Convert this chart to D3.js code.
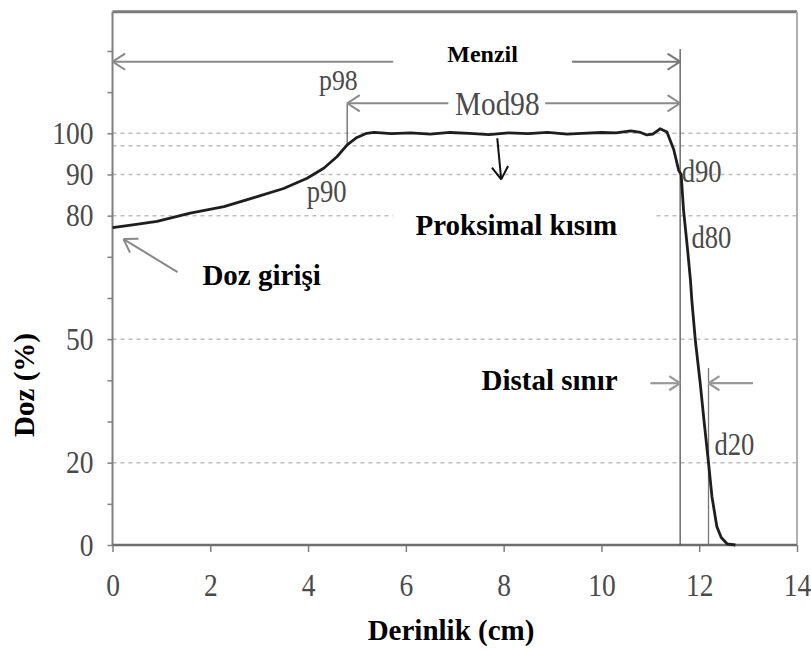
<!DOCTYPE html>
<html>
<head>
<meta charset="utf-8">
<script src="https://cdn.jsdelivr.net/npm/d3@7"></script>
<style>
  html, body { margin: 0; padding: 0; background: #fff; }
  svg { display: block; }
  text { font-family: "Liberation Serif", "Times New Roman", serif; }
</style>
</head>
<body>
<svg id="chart" width="811" height="651"></svg>
<script>
/*
 * Depth-dose curve (proton SOBP)
 * ========================================================================== */

// depth in cm, dose in %
const depth = [0, 0.45, 0.91, 1.59, 2.28, 2.96, 3.5, 3.98, 4.32, 4.59, 4.8, 5.0, 5.2, 5.35,
  5.7, 6.1, 6.5, 6.9, 7.3, 7.7, 8.1, 8.5, 8.9, 9.3, 9.6, 10.0, 10.3, 10.6, 10.8,
  10.93, 11.05, 11.2, 11.34, 11.48, 11.58, 11.63, 11.68, 11.76, 11.82, 11.85, 11.92,
  12.02, 12.1, 12.19, 12.26, 12.36, 12.45, 12.57, 12.74];
const dose = [77.1, 77.8, 78.6, 80.6, 82.2, 84.6, 86.6, 89.1, 91.5, 94.3, 97.2, 99.0, 100, 100.2,
  99.9, 100.1, 99.8, 100.2, 100, 99.7, 100.1, 99.9, 100.2, 99.8, 100, 100.2, 100.1, 100.6, 100.2,
  99.6, 99.8, 101.1, 100.3, 96, 91, 90, 81.3, 72, 64.4, 59.3, 49.8,
  39.3, 30, 20, 11.8, 4.5, 1.8, 0.3, 0];

const xTicks = [0, 2, 4, 6, 8, 10, 12, 14];
const yTicks = [0, 10, 20, 30, 40, 50, 60, 70, 80, 90, 100, 110, 120];
const yTickLabels = [0, 20, 50, 80, 90, 100];
const gridLevels = [100, 97, 90, 80, 50, 20];

// annotation anchors (depth, dose)
const rangeEnds = [0, 11.61];      // Menzil
const modEnds = [4.8, 11.61];      // Mod98
const distalEnds = [11.61, 12.19]; // Distal sınır

const svg = d3.select('#chart');
const x = d3.scaleLinear().domain([0, 14]).range([112.5, 797]);
const y = d3.scaleLinear().domain([0, 100]).range([545, 133.3]);
const yTop = 129.5;

const GRID = '#bdbdbd', AXIS = '#808080', ANNO = '#8a8a8a';
const SQUEEZE = 0.86; // tick labels are a narrow serif

/*
 * Grid
 */
svg.append('g').selectAll('line')
  .data(gridLevels)
  .enter().append('line')
    .attr('x1', x(0)).attr('x2', x(14))
    .attr('y1', d => y(d)).attr('y2', d => y(d))
    .attr('stroke', GRID)
    .attr('stroke-width', 1.5)
    .attr('stroke-dasharray', '4,4');

// white box behind "Proksimal kısım"
svg.append('rect')
  .attr('x', x(5.74)).attr('y', y(84))
  .attr('width', x(11.1) - x(5.74)).attr('height', y(73) - y(84))
  .attr('fill', '#fff');

/*
 * Frame and axes
 */
svg.append('line')
  .attr('x1', x(0)).attr('x2', x(14)).attr('y1', y(yTop)).attr('y2', y(yTop))
  .attr('stroke', '#7a7a7a').attr('stroke-width', 3);
svg.append('line')
  .attr('x1', x(14)).attr('x2', x(14)).attr('y1', y(yTop)).attr('y2', y(0))
  .attr('stroke', '#b0b0b0').attr('stroke-width', 2);

const yAxis = svg.append('g')
  .attr('transform', 'translate(' + x(0) + ',0)')
  .call(d3.axisLeft(y).tickValues(yTicks).tickSize(5).tickPadding(14)
    .tickFormat(d => yTickLabels.includes(d) ? d : ''));

const xAxis = svg.append('g')
  .attr('transform', 'translate(0,' + y(0) + ')')
  .call(d3.axisBottom(x).tickValues(xTicks).tickSize(7).tickPadding(21));

[yAxis, xAxis].forEach(a => {
  a.attr('font-family', null);
  a.select('.domain').remove();
  a.selectAll('.tick line').attr('stroke', AXIS).attr('stroke-width', 1.5);
  a.selectAll('.tick text')
    .attr('fill', '#4a4a4a')
    .attr('transform', 'scale(' + SQUEEZE + ',1)')
    .style('font-size', '32px')
    .style('font-family', '"Liberation Serif", serif');
});
yAxis.selectAll('.tick text').attr('x', -19 / SQUEEZE);

svg.append('line')
  .attr('x1', x(0)).attr('x2', x(0)).attr('y1', y(yTop)).attr('y2', y(0))
  .attr('stroke', AXIS).attr('stroke-width', 2);
svg.append('line')
  .attr('x1', x(0)).attr('x2', x(14)).attr('y1', y(0)).attr('y2', y(0))
  .attr('stroke', '#6e6e6e').attr('stroke-width', 2.5);

/*
 * Vertical markers
 */
svg.append('line')
  .attr('x1', x(rangeEnds[1])).attr('x2', x(rangeEnds[1]))
  .attr('y1', y(120.5)).attr('y2', y(0))
  .attr('stroke', '#555').attr('stroke-width', 1.3);
svg.append('line')
  .attr('x1', x(distalEnds[1])).attr('x2', x(distalEnds[1]))
  .attr('y1', y(43)).attr('y2', y(0))
  .attr('stroke', '#777').attr('stroke-width', 1.3);
svg.append('line')
  .attr('x1', x(modEnds[0])).attr('x2', x(modEnds[0]))
  .attr('y1', y(107.3)).attr('y2', y(97))
  .attr('stroke', '#666').attr('stroke-width', 1.3);

/*
 * Curve
 */
const line = d3.line()
  .x(d => x(d[0]))
  .y(d => y(d[1]));

svg.append('path')
  .datum(d3.zip(depth, dose))
  .attr('d', line)
  .attr('fill', 'none')
  .attr('stroke', '#1e1e1e')
  .attr('stroke-width', 2.8)
  .attr('stroke-linejoin', 'round');

/*
 * Arrow helper: line from (x1,y1) to (x2,y2), open head at the end
 */
function arrow(x1, y1, x2, y2, color, width, head) {
  svg.append('line')
    .attr('x1', x1).attr('y1', y1).attr('x2', x2).attr('y2', y2)
    .attr('stroke', color).attr('stroke-width', width);
  const a = Math.atan2(y2 - y1, x2 - x1), spread = Math.PI / 5.5;
  [a + Math.PI - spread, a + Math.PI + spread].forEach(t => {
    svg.append('line')
      .attr('x1', x2).attr('y1', y2)
      .attr('x2', x2 + head * Math.cos(t)).attr('y2', y2 + head * Math.sin(t))
      .attr('stroke', color).attr('stroke-width', width);
  });
}

// Menzil
arrow(x(5.74), y(117.4), x(rangeEnds[0]), y(117.4), ANNO, 2, 15);
arrow(x(9.4), y(117.4), x(rangeEnds[1]), y(117.4), '#777', 2, 15);
// Mod98
arrow(x(6.87), y(107.3), x(modEnds[0]), y(107.3), ANNO, 2, 15);
arrow(x(8.85), y(107.3), x(modEnds[1]), y(107.3), ANNO, 2, 15);
// Distal sınır
arrow(x(11.0), y(39.3), x(distalEnds[0]), y(39.3), '#999', 2.2, 13);
arrow(x(13.1), y(39.3), x(distalEnds[1]), y(39.3), '#999', 2.2, 13);
// Doz girişi
arrow(x(1.33), y(66.3), x(0.225), y(74.3), '#888', 2, 15);
// Proksimal kısım
arrow(x(7.87), y(98.8), x(7.95), y(88.8), '#111', 2, 15);

/*
 * Labels
 */
const grayLabels = [
  { t: 'p98', d: 4.62, v: 110.6, s: 30 },
  { t: 'Mod98', d: 7.87, v: 104.5, s: 34 },
  { t: 'p90', d: 4.38, v: 83.4, s: 31 },
  { t: 'd90', d: 12.05, v: 88.2, s: 31 },
  { t: 'd80', d: 12.25, v: 72.1, s: 31 },
  { t: 'd20', d: 12.72, v: 21.9, s: 31 }
];
svg.append('g').selectAll('text')
  .data(grayLabels)
  .enter().append('text')
    .attr('transform', d => 'translate(' + x(d.d) + ',' + y(d.v) + ') scale(' + SQUEEZE + ',1)')
    .attr('text-anchor', 'middle')
    .attr('fill', '#4a4a4a')
    .style('font-size', d => d.s + 'px')
    .text(d => d.t);

const boldLabels = [
  { t: 'Menzil', d: 7.57, v: 117.2, s: 24 },
  { t: 'Proksimal kısım', d: 8.26, v: 75.4, s: 29 },
  { t: 'Doz girişi', d: 3.05, v: 63.2, s: 29 },
  { t: 'Distal sınır', d: 8.94, v: 37.7, s: 29 }
];
svg.append('g').selectAll('text')
  .data(boldLabels)
  .enter().append('text')
    .attr('x', d => x(d.d)).attr('y', d => y(d.v))
    .attr('text-anchor', 'middle')
    .attr('fill', '#000')
    .style('font-size', d => d.s + 'px')
    .style('font-weight', 'bold')
    .text(d => d.t);

// axis titles
svg.append('text')
  .attr('x', 451).attr('y', 640)
  .attr('text-anchor', 'middle')
  .style('font-size', '29px').style('font-weight', 'bold')
  .text('Derinlik (cm)');

svg.append('text')
  .attr('transform', 'translate(34,385) rotate(-90)')
  .attr('text-anchor', 'middle')
  .style('font-size', '29px').style('font-weight', 'bold')
  .text('Doz (%)');
</script>
</body>
</html>
